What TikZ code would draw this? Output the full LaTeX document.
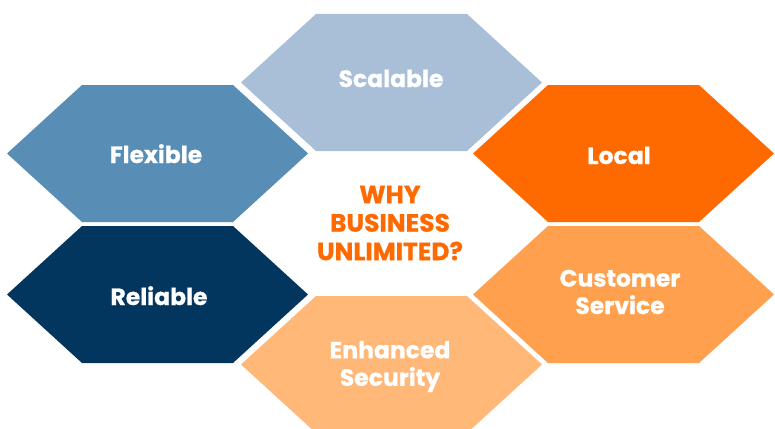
\documentclass[tikz,border=0pt]{standalone}
\usepackage{fontspec}
\setmainfont{Poppins}[BoldFeatures={FakeBold=0.7}]
\definecolor{cScal}{HTML}{A9BFD7}
\definecolor{cFlex}{HTML}{588DB5}
\definecolor{cRel}{HTML}{03365F}
\definecolor{cLoc}{HTML}{FF6A00}
\definecolor{cCust}{HTML}{FFA04F}
\definecolor{cEnh}{HTML}{FFB878}
\tikzset{
  hexa/.pic={\fill[pic actions] (-150.5,0) -- (-75.5,-68.5) -- (75.5,-68.5) -- (150.5,0) -- (75.5,68.5) -- (-75.5,68.5) -- cycle;},
  lab/.style={text=white, font=\fontsize{23.5}{27.5}\selectfont\bfseries, align=center, inner sep=0pt},
  why/.style={text=cLoc, font=\fontsize{25}{28.5}\selectfont\bfseries, align=center, inner sep=0pt}
}
\begin{document}
\begin{tikzpicture}[x=1pt,y=-1pt]
\useasboundingbox (0,0) rectangle (775,428);
\clip (0,0) rectangle (775,428);
\fill[white] (0,0) rectangle (775,428);
\pic[fill=cScal] at (391.5,82.5) {hexa};
\pic[fill=cFlex] at (157.5,153.5) {hexa};
\pic[fill=cLoc] at (623.5,153.5) {hexa};
\pic[fill=cRel] at (157.5,294.5) {hexa};
\pic[fill=cCust] at (623.5,294.5) {hexa};
\pic[fill=cEnh] at (391.5,364.5) {hexa};
\node[lab, anchor=base] (scal) at (391,87) {Scalable};
\node[lab, anchor=base] (flex) at (156,163) {Flexible};
\node[lab, anchor=base] (loc) at (619,164) {Local};
\node[lab, anchor=base] (rel) at (159,305) {Reliable};
\node[lab] (cust) at (620,292) {Customer\\Service};
\node[lab] (enh) at (390,366.5) {Enhanced\\Security};
\node[why] (why) at (390,223) {WHY\\BUSINESS\\UNLIMITED?};
\end{tikzpicture}
\end{document}
